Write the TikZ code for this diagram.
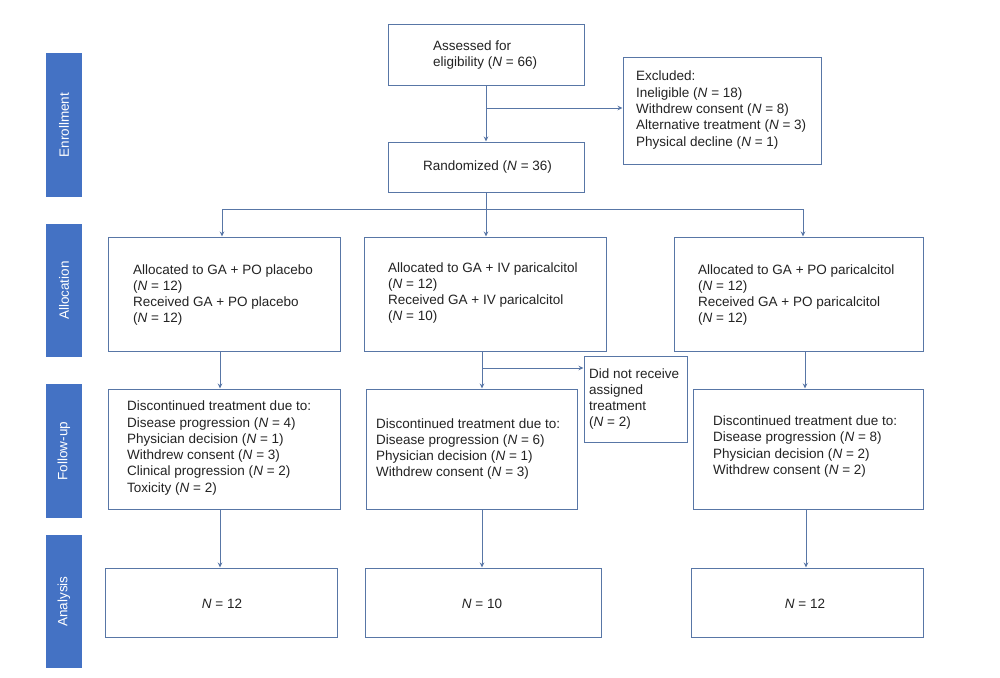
\documentclass[tikz,border=0pt]{standalone}
\usepackage{fontspec}
\setmainfont{Liberation Sans}
\usetikzlibrary{arrows.meta,calc}
\definecolor{linecol}{RGB}{88,118,166}
\definecolor{barcol}{RGB}{68,114,196}
\definecolor{txtcol}{RGB}{35,35,35}
\begin{document}
\begin{tikzpicture}[x=1pt,y=-1pt,
  box/.style={draw=linecol, line width=1pt, fill=white, inner sep=0pt},
  bar/.style={fill=barcol, draw=none, text=white, rotate=90, minimum height=36pt, inner sep=0pt,
    font=\fontsize{13.5}{16}\selectfont},
  txt/.style={anchor=west, align=left, inner sep=0pt, text=txtcol,
    font=\fontsize{13.5}{16.3}\selectfont},
  ctxt/.style={align=center, inner sep=0pt, text=txtcol, font=\fontsize{13.5}{16.3}\selectfont},
  conn/.style={draw=linecol, line width=0.9pt},
  arr/.style={conn, -{Stealth[length=5pt,width=4.5pt]}}
]
\fill[white] (0,0) rectangle (1000,677);
\useasboundingbox (0,0) rectangle (1000,677);

% side bars
\node[bar, minimum width=144pt] (enr) at (64,125) {Enrollment};
\node[bar, minimum width=133pt] (alc) at (64,290.5) {Allocation};
\node[bar, minimum width=134pt] (fol) at (64,451) {Follow-up};
\node[bar, minimum width=133pt] (ana) at (64,601.5) {Analysis};

% boxes
\node[box, minimum width=196pt, minimum height=60pt] (assess) at (486,55) {};
\node[box, minimum width=196pt, minimum height=50pt] (rand) at (486,167) {};
\node[box, minimum width=198pt, minimum height=106pt] (excl) at (722,111) {};
\node[box, minimum width=232pt, minimum height=114pt] (a1) at (224,294) {};
\node[box, minimum width=242pt, minimum height=114pt] (a2) at (485,294) {};
\node[box, minimum width=249pt, minimum height=114pt] (a3) at (798.5,294) {};
\node[box, minimum width=232pt, minimum height=120pt] (f1) at (224,449) {};
\node[box, minimum width=211pt, minimum height=120pt] (f2) at (471.5,449) {};
\node[box, minimum width=230pt, minimum height=120pt] (f3) at (808,449) {};
\node[box, minimum width=103pt, minimum height=86pt] (dnr) at (635.5,399) {};
\node[box, minimum width=232pt, minimum height=69pt] (n1) at (221,602.5) {};
\node[box, minimum width=236pt, minimum height=69pt] (n2) at (483,602.5) {};
\node[box, minimum width=232pt, minimum height=69pt] (n3) at (807,602.5) {};

% texts
\node[txt] (tassess) at (433,55) {Assessed for\\eligibility (\textit{N} = 66)};
\node[txt] (trand) at (423,167) {Randomized (\textit{N} = 36)};
\node[txt] (texcl) at (636,110) {Excluded:\\Ineligible (\textit{N} = 18)\\Withdrew consent (\textit{N} = 8)\\Alternative treatment (\textit{N} = 3)\\Physical decline (\textit{N} = 1)};
\node[txt] (ta1) at (133,295) {Allocated to GA + PO placebo\\(\textit{N} = 12)\\Received GA + PO placebo\\(\textit{N} = 12)};
\node[txt] (ta2) at (388,293) {Allocated to GA + IV paricalcitol\\(\textit{N} = 12)\\Received GA + IV paricalcitol\\(\textit{N} = 10)};
\node[txt] (ta3) at (698,295) {Allocated to GA + PO paricalcitol\\(\textit{N} = 12)\\Received GA + PO paricalcitol\\(\textit{N} = 12)};
\node[txt] (tf1) at (127,448) {Discontinued treatment due to:\\Disease progression (\textit{N} = 4)\\Physician decision (\textit{N} = 1)\\Withdrew consent (\textit{N} = 3)\\Clinical progression (\textit{N} = 2)\\Toxicity (\textit{N} = 2)};
\node[txt] (tf2) at (376,449) {Discontinued treatment due to:\\Disease progression (\textit{N} = 6)\\Physician decision (\textit{N} = 1)\\Withdrew consent (\textit{N} = 3)};
\node[txt] (tf3) at (713,446.5) {Discontinued treatment due to:\\Disease progression (\textit{N} = 8)\\Physician decision (\textit{N} = 2)\\Withdrew consent (\textit{N} = 2)};
\node[txt] (tdnr) at (589,399) {Did not receive\\assigned\\treatment\\(\textit{N} = 2)};
\node[ctxt] (tn1) at (222,604) {\textit{N} = 12};
\node[ctxt] (tn2) at (482,604) {\textit{N} = 10};
\node[ctxt] (tn3) at (805,604) {\textit{N} = 12};

% connectors
\draw[arr] (assess) -- (rand);
\coordinate (ex) at (486,108);
\draw[arr] (ex) -- (ex -| excl.west);

\coordinate (bm) at (486,209);
\coordinate (bl) at (222,209);
\coordinate (br) at (803,209);
\draw[conn] (rand.south) -- (bm);
\draw[conn] (bl) -- (br);
\draw[arr] (bl) -- (bl |- a1.north);
\draw[arr] (bm) -- (bm |- a2.north);
\draw[arr] (br) -- (br |- a3.north);

\coordinate (c1) at (220,351);
\coordinate (c2) at (482,351);
\coordinate (c3) at (805,351);
\draw[arr] (c1) -- (c1 |- f1.north);
\draw[arr] (c2) -- (c2 |- f2.north);
\draw[arr] (c3) -- (c3 |- f3.north);
\coordinate (dn) at (482,368);
\draw[arr] (dn) -- (dn -| dnr.west);

\coordinate (d1) at (220,509);
\coordinate (d2) at (482,509);
\coordinate (d3) at (806,509);
\draw[arr] (d1) -- (d1 |- n1.north);
\draw[arr] (d2) -- (d2 |- n2.north);
\draw[arr] (d3) -- (d3 |- n3.north);
\end{tikzpicture}
\end{document}
